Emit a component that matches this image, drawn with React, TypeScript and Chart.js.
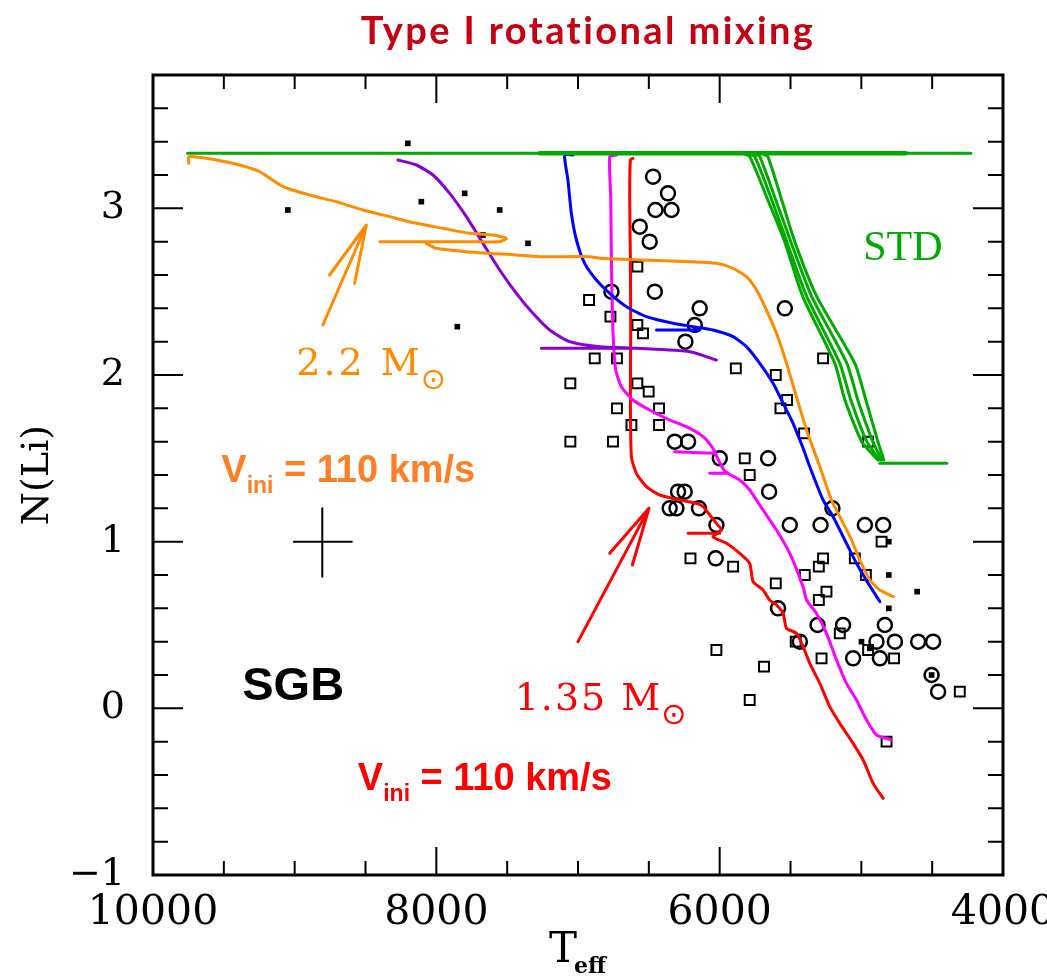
import React, { useEffect, useRef } from "react";
import { Chart, registerables } from "chart.js";

Chart.register(...registerables);

type Pt = [number, number];
type Seg = (Pt | null)[];

// ---------- axes ----------
const xMajorTicks = [10000, 8000, 6000, 4000];
const yMajorTicks = [-1, 0, 1, 2, 3];
const xMinorStep = 500;
const yMinorStep = 0.2;

// ---------- observations (Teff, N(Li)) ----------
const obsCircles: Pt[] = [
  [6470, 3.19], [6365, 3.09], [6453, 2.99], [6340, 2.99], [6564, 2.89], [6494, 2.8],
  [6764, 2.5], [6458, 2.5], [6141, 2.4], [5540, 2.4], [6176, 2.3], [6242, 2.2],
  [6317, 1.6], [6223, 1.6], [5999, 1.5], [5658, 1.5], [5651, 1.3], [6294, 1.3],
  [6247, 1.3], [6353, 1.2], [6305, 1.2], [6146, 1.2], [6023, 1.1], [5505, 1.1],
  [5288, 1.1], [5204, 1.2], [4975, 1.1], [4846, 1.1], [6028, 0.9], [5588, 0.6],
  [5309, 0.5], [5129, 0.5], [4834, 0.5], [5434, 0.4], [4893, 0.4], [4763, 0.4],
  [4599, 0.4], [4493, 0.4], [5058, 0.3], [4869, 0.3], [4504, 0.2], [4458, 0.1],
];

const obsSquares: Pt[] = [
  [6581, 2.65], [6922, 2.45], [6771, 2.35], [6581, 2.3], [6541, 2.25], [6882, 2.1],
  [6725, 2.1], [5886, 2.04], [5270, 2.1], [7054, 1.95], [6581, 1.95], [6501, 1.9],
  [5604, 2.0], [5524, 1.85], [5571, 1.8], [6725, 1.8], [6428, 1.8], [6623, 1.7],
  [6428, 1.7], [7054, 1.6], [6753, 1.6], [5404, 1.65], [4952, 1.6], [5823, 1.5],
  [5788, 1.4], [4857, 1.0], [6206, 0.9], [5905, 0.85], [5270, 0.9], [5300, 0.85],
  [5399, 0.8], [5604, 0.75], [5046, 0.9], [4968, 0.8], [5246, 0.7], [5300, 0.65],
  [5152, 0.45], [5463, 0.4], [4952, 0.35], [5281, 0.3], [4769, 0.3], [6023, 0.35],
  [5687, 0.25], [5788, 0.05], [4305, 0.1], [4822, -0.2],
];

const obsDots: Pt[] = [
  [8201, 3.39], [9048, 2.99], [8106, 3.04], [7800, 3.09], [7553, 2.99], [7671, 2.84],
  [7353, 2.79], [7852, 2.29], [4806, 1.0], [4806, 0.8], [4606, 0.7], [4806, 0.6],
  [4999, 0.4], [4940, 0.36], [4504, 0.2],
];

// ---------- models ----------
const stdPlateau: Seg = [[9756, 3.33], [4227, 3.33]];
const stdPlateauDense: Seg = [[7271, 3.33], [4686, 3.33]];
const stdTrack1: Seg = [[5830, 3.33], [5787, 3.31], [5660, 3.05], [5541, 2.8], [5413, 2.47], [5187, 2.07], [5116, 1.85], [4997, 1.6], [4883, 1.49]];
const stdTrack2: Seg = [[5800, 3.33], [5752, 3.31], [5632, 3.05], [5526, 2.8], [5385, 2.47], [5152, 2.07], [5074, 1.85], [4961, 1.6], [4869, 1.49]];
const stdTrack3: Seg = [[5760, 3.33], [5717, 3.31], [5604, 3.05], [5498, 2.8], [5350, 2.47], [5102, 2.07], [5025, 1.85], [4919, 1.6], [4855, 1.49]];
const stdTrack4: Seg = [[5700, 3.33], [5660, 3.31], [5562, 3.05], [5470, 2.8], [5314, 2.47], [5046, 2.07], [4968, 1.85], [4883, 1.6], [4841, 1.49]];
const stdTail: Seg = [[4869, 1.47], [4397, 1.47]];

const track22: Seg = [
  [9747, 3.27], [9747, 3.31], [9554, 3.29], [9389, 3.26], [9248, 3.22], [9083, 3.13],
  [8895, 3.08], [8706, 3.04], [8518, 2.99], [8330, 2.95], [8141, 2.91], [7953, 2.88],
  [7765, 2.85], [7600, 2.84], [7506, 2.82], [7553, 2.8], [7788, 2.8], [8141, 2.8], [8400, 2.8],
  null,
  [8071, 2.79], [8000, 2.76], [7788, 2.74], [7435, 2.72], [7271, 2.71], [6917, 2.71],
  [6847, 2.7], [6564, 2.69], [6211, 2.68], [6023, 2.67], [5906, 2.64], [5811, 2.59],
  [5740, 2.51], [5670, 2.39], [5599, 2.25], [5528, 2.07], [5458, 1.87], [5387, 1.67],
  [5293, 1.45], [5211, 1.25], [5140, 1.13], [5069, 1.01], [5011, 0.89], [4940, 0.77],
  [4869, 0.71], [4775, 0.67],
];

const trackPurple: Seg = [
  [8271, 3.29], [8141, 3.26], [8024, 3.2], [7906, 3.09], [7788, 2.95], [7671, 2.79],
  [7553, 2.63], [7435, 2.49], [7318, 2.37], [7200, 2.27], [7059, 2.2], [6847, 2.17],
  [6588, 2.16], [6211, 2.14], [6023, 2.09],
  null,
  [7259, 2.16], [6588, 2.16],
];

const trackBlue: Seg = [
  [7035, 3.32], [7094, 3.32], [7071, 3.17], [7047, 2.97], [7011, 2.81], [6953, 2.67],
  [6870, 2.57], [6776, 2.49], [6658, 2.41], [6517, 2.35], [6329, 2.31], [6188, 2.29],
  [6047, 2.27], [5905, 2.23], [5811, 2.17], [5717, 2.07], [5623, 1.95], [5552, 1.83],
  [5482, 1.71], [5411, 1.56], [5364, 1.45], [5270, 1.25], [5199, 1.15], [5105, 0.99],
  [5034, 0.87], [4952, 0.75], [4869, 0.64],
  null,
  [6446, 2.27], [6141, 2.27],
];

const trackMagenta: Seg = [
  [6729, 3.32], [6776, 3.31], [6769, 3.07], [6764, 2.67], [6757, 2.37], [6748, 2.17],
  [6734, 2.03], [6694, 1.93], [6612, 1.85], [6494, 1.79], [6353, 1.73], [6235, 1.69],
  [6117, 1.63], [6047, 1.56], [6014, 1.5], [5978, 1.44], [5943, 1.41], [5858, 1.37],
  [5788, 1.31], [5694, 1.19], [5599, 1.07], [5505, 0.93], [5411, 0.73], [5387, 0.65],
  [5317, 0.57], [5246, 0.45], [5175, 0.29], [5105, 0.15], [5034, 0.05], [4963, -0.07],
  [4893, -0.16], [4787, -0.19],
  null,
  [6317, 1.54], [6047, 1.53],
  null,
  [6070, 1.41], [5943, 1.41],
];

const track135: Seg = [
  [6612, 3.3], [6630, 3.29], [6635, 3.07], [6630, 2.67], [6628, 2.27], [6630, 1.85],
  [6623, 1.51], [6588, 1.41], [6517, 1.33], [6423, 1.28], [6282, 1.25], [6164, 1.23],
  [6117, 1.21], [6070, 1.16], [6023, 1.11], [5987, 1.07], [6047, 1.03], [5952, 0.99],
  [5858, 0.93], [5788, 0.87], [5764, 0.76], [5694, 0.71], [5647, 0.65], [5599, 0.62],
  [5552, 0.57], [5528, 0.48], [5458, 0.45], [5411, 0.37], [5364, 0.27], [5293, 0.15],
  [5223, 0.01], [5152, -0.09], [5058, -0.21], [4987, -0.31], [4917, -0.45], [4846, -0.54],
  null,
  [6223, 1.05], [5999, 1.05],
];

const arrow22: Seg = [[8801, 2.3], [8494, 2.9], null, [8754, 2.6], [8494, 2.9], [8577, 2.55]];
const arrow135: Seg = [[7000, 0.4], [6499, 1.2], null, [6776, 0.93], [6499, 1.2], [6616, 0.86]];
const errorCross: Seg = [[9006, 1.0], [8597, 1.0], null, [8805, 1.2], [8805, 0.79]];

// ---------- annotation anchors (data coordinates) ----------
const label22At: Pt = [8989, 2.0];
const label135At: Pt = [7447, -0.01];
const labelStdAt: Pt = [4987, 2.69];
const vini22At: Pt = [9518, 1.36];
const vini135At: Pt = [8554, -0.49];
const sgbAt: Pt = [9370, 0.05];

const C_GREEN = "#00aa00";
const C_ORANGE = "#ff8c00";
const C_ORANGE_TXT = "#ff7f27";
const C_PURPLE = "#8a00d0";
const C_BLUE = "#0000ff";
const C_MAGENTA = "#ff00ff";
const C_RED = "#ff0000";

function toData(seg: Seg) {
  let lastX = 0;
  return seg.map((p) => {
    if (!p) return { x: lastX, y: null as any };
    lastX = p[0];
    return { x: p[0], y: p[1] };
  });
}

function lineDs(seg: Seg, color: string, width = 3, tension = 0.2) {
  return {
    data: toData(seg),
    showLine: true,
    borderColor: color,
    backgroundColor: color,
    borderWidth: width,
    pointRadius: 0,
    pointHoverRadius: 0,
    tension,
    spanGaps: false,
    borderJoinStyle: "round" as const,
    borderCapStyle: "round" as const,
    order: 0,
  };
}

function pointDs(pts: Pt[], style: string, radius: number, border: number, fill: string) {
  return {
    data: pts.map((p) => ({ x: p[0], y: p[1] })),
    showLine: false,
    pointStyle: style,
    pointRadius: radius,
    pointHoverRadius: radius,
    pointBorderWidth: border,
    pointBorderColor: "#000",
    pointBackgroundColor: fill,
    borderColor: "#000",
    backgroundColor: fill,
    order: 1,
  };
}

const decorPlugin = {
  id: "decor",
  afterDraw(chart: any) {
    const { ctx, chartArea: a, scales } = chart;
    const xs = scales.x;
    const ys = scales.y;
    const X = (v: number) => xs.getPixelForValue(v);
    const Y = (v: number) => ys.getPixelForValue(v);
    ctx.save();

    // inward ticks on all four sides
    ctx.strokeStyle = "#000";
    ctx.lineWidth = 2;
    ctx.beginPath();
    for (let v = xs.min; v <= xs.max + 1e-6; v += xMinorStep) {
      const major = xMajorTicks.some((t) => Math.abs(t - v) < 1e-6);
      const len = major ? 28 : 14;
      const px = X(v);
      ctx.moveTo(px, a.bottom); ctx.lineTo(px, a.bottom - len);
      ctx.moveTo(px, a.top); ctx.lineTo(px, a.top + len);
    }
    const nY = Math.round((ys.max - ys.min) / yMinorStep);
    for (let i = 0; i <= nY; i++) {
      const v = ys.min + i * yMinorStep;
      const major = yMajorTicks.some((t) => Math.abs(t - v) < 1e-6);
      const len = major ? 30 : 15;
      const py = Y(v);
      ctx.moveTo(a.left, py); ctx.lineTo(a.left + len, py);
      ctx.moveTo(a.right, py); ctx.lineTo(a.right - len, py);
    }
    ctx.stroke();
    ctx.lineWidth = 3;
    ctx.strokeRect(a.left, a.top, a.right - a.left, a.bottom - a.top);

    // title
    ctx.fillStyle = "#c40012";
    ctx.font = "bold 38px Lato";
    ctx.textAlign = "center";
    ctx.textBaseline = "alphabetic";
    (ctx as any).letterSpacing = "2.4px";
    ctx.fillText("Type I rotational mixing", (a.left + a.right) / 2 + 10, 44);
    (ctx as any).letterSpacing = "0px";

    // axis titles
    ctx.fillStyle = "#000";
    ctx.save();
    ctx.translate(38, 475);
    ctx.rotate(-Math.PI / 2);
    ctx.font = "38px 'DejaVu Serif'";
    ctx.textAlign = "center";
    ctx.textBaseline = "middle";
    ctx.fillText("N(Li)", 0, 0);
    ctx.restore();

    ctx.textAlign = "left";
    ctx.font = "42px 'DejaVu Serif'";
    ctx.fillText("T", 549, 962);
    ctx.font = "bold 22px 'DejaVu Serif'";
    ctx.fillText("eff", 574, 973);

    const rich = (parts: { t: string; f: string; dy?: number; ls?: string }[], x: number, y: number) => {
      let cx = x;
      for (const p of parts) {
        ctx.font = p.f;
        (ctx as any).letterSpacing = p.ls || "0px";
        ctx.fillText(p.t, cx, y + (p.dy || 0));
        cx += ctx.measureText(p.t).width;
      }
      (ctx as any).letterSpacing = "0px";
      return cx;
    };

    // mass labels
    ctx.textAlign = "left";
    ctx.textBaseline = "alphabetic";
    ctx.fillStyle = C_ORANGE;
    const e22 = rich([{ t: "2.2 M", f: "38px 'DejaVu Serif'", ls: "3px" }], X(label22At[0]), Y(label22At[1]));
    ctx.font = "30px 'DejaVu Sans'";
    ctx.fillText("\u2299", e22 - 2, Y(label22At[1]) + 14);

    ctx.fillStyle = C_RED;
    const e135 = rich([{ t: "1.35 M", f: "38px 'DejaVu Serif'", ls: "2px" }], X(label135At[0]), Y(label135At[1]));
    ctx.font = "30px 'DejaVu Sans'";
    ctx.fillText("\u2299", e135 - 1, Y(label135At[1]) + 14);

    ctx.fillStyle = C_GREEN;
    ctx.font = "42px 'Liberation Serif'";
    ctx.fillText("STD", X(labelStdAt[0]), Y(labelStdAt[1]));

    // velocity labels
    const vini = (at: Pt, color: string) => {
      ctx.fillStyle = color;
      rich(
        [
          { t: "V", f: "bold 38px 'Liberation Sans'" },
          { t: "ini", f: "bold 23px 'Liberation Sans'", dy: 11 },
          { t: " = 110 km/s", f: "bold 38px 'Liberation Sans'" },
        ],
        X(at[0]),
        Y(at[1])
      );
    };
    vini(vini22At, C_ORANGE_TXT);
    vini(vini135At, C_RED);

    ctx.fillStyle = "#000";
    ctx.font = "bold 47px 'Liberation Sans'";
    ctx.fillText("SGB", X(sgbAt[0]), Y(sgbAt[1]));

    ctx.restore();
  },
};

export default function App() {
  const ref = useRef<HTMLCanvasElement | null>(null);
  useEffect(() => {
    if (!ref.current) return;
    const chart = new Chart(ref.current, {
      type: "scatter",
      data: {
        datasets: [
          lineDs(stdPlateau, C_GREEN, 3, 0),
          lineDs(stdPlateauDense, C_GREEN, 4.5, 0),
          lineDs(stdTrack1, C_GREEN, 3),
          lineDs(stdTrack2, C_GREEN, 3),
          lineDs(stdTrack3, C_GREEN, 3),
          lineDs(stdTrack4, C_GREEN, 3),
          lineDs(stdTail, C_GREEN, 3, 0),
          lineDs(track22, C_ORANGE, 3),
          lineDs(trackPurple, C_PURPLE, 3),
          lineDs(trackBlue, C_BLUE, 3),
          lineDs(trackMagenta, C_MAGENTA, 3),
          lineDs(track135, C_RED, 3),
          lineDs(arrow22, C_ORANGE, 3, 0),
          lineDs(arrow135, C_RED, 3, 0),
          lineDs(errorCross, "#000", 2, 0),
          pointDs(obsCircles, "circle", 7, 2.5, "rgba(0,0,0,0)"),
          pointDs(obsSquares, "rect", 7, 2, "rgba(0,0,0,0)"),
          pointDs(obsDots, "rect", 4, 0, "#000"),
        ] as any,
      },
      options: {
        animation: false,
        responsive: false,
        maintainAspectRatio: false,
        layout: { padding: { top: 75, right: 44, left: 0, bottom: 0 } },
        plugins: {
          legend: { display: false },
          tooltip: { enabled: false },
          title: { display: false },
        },
        scales: {
          x: {
            type: "linear",
            min: 4000,
            max: 10000,
            reverse: true,
            grid: { display: false, drawTicks: false },
            border: { display: false },
            ticks: {
              color: "#000",
              font: { family: "'DejaVu Serif'", size: 41 },
              padding: 14,
              maxRotation: 0,
              autoSkip: false,
              callback: (v: any) => String(v),
            },
            afterBuildTicks: (s: any) => {
              s.ticks = xMajorTicks.map((v) => ({ value: v }));
            },
            afterFit: (s: any) => {
              s.height = 101;
              s.paddingLeft = 0;
              s.paddingRight = 0;
            },
          },
          y: {
            type: "linear",
            min: -1,
            max: 3.8,
            grid: { display: false, drawTicks: false },
            border: { display: false },
            ticks: {
              color: "#000",
              font: { family: "'DejaVu Serif'", size: 38 },
              padding: 28,
              autoSkip: false,
              callback: (v: any) => (v < 0 ? "\u2212" + Math.abs(v) : String(v)),
            },
            afterBuildTicks: (s: any) => {
              s.ticks = yMajorTicks.map((v) => ({ value: v }));
            },
            afterFit: (s: any) => {
              s.width = 153;
              s.paddingTop = 0;
              s.paddingBottom = 0;
            },
          },
        },
      } as any,
      plugins: [decorPlugin],
    });
    return () => chart.destroy();
  }, []);

  return (
    <div style={{ position: "absolute", left: 0, top: 0, width: 1047, height: 976, background: "#fff" }}>
      <canvas ref={ref} width={1047} height={976} style={{ display: "block" }} />
    </div>
  );
}
